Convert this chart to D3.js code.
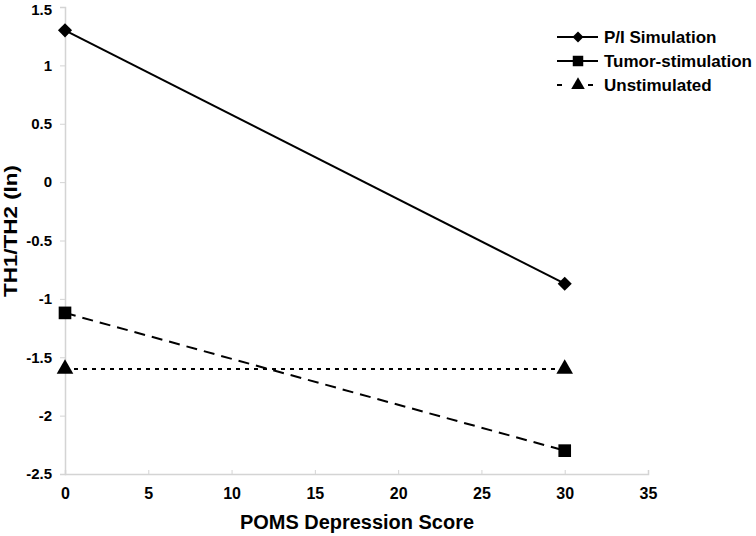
<!DOCTYPE html>
<html><head><meta charset="utf-8">
<script src="https://cdn.jsdelivr.net/npm/d3@7"></script>
<style>body{margin:0;background:#fff}svg{display:block}</style>
</head><body>
<svg id="c" width="756" height="536"></svg>
<script>
const xValues = [0, 30];
const piSimulation = [1.3, -0.87];
const tumorStimulation = [-1.12, -2.3];
const unstimulated = [-1.6, -1.6];
const seriesNames = ["P/I Simulation", "Tumor-stimulation", "Unstimulated"];
const xTicks = [0, 5, 10, 15, 20, 25, 30, 35];
const yTicks = [1.5, 1, 0.5, 0, -0.5, -1, -1.5, -2, -2.5];

const svg = d3.select("#c");
const x = d3.scaleLinear().domain([0, 35]).range([65, 648]);
const y = d3.scaleLinear().domain([-2.5, 1.5]).range([474, 7]);
const axisColor = "#d4d4d4";
const fmt = d => String(d);

// y axis
const ya = svg.append("g").attr("transform", "translate(65,0)")
  .call(d3.axisLeft(y).tickValues(yTicks).tickSize(5).tickPadding(8).tickFormat(fmt));
ya.select(".domain").attr("stroke", axisColor).attr("stroke-width", 1.5);
ya.selectAll(".tick line").attr("stroke", axisColor);
ya.selectAll("text").attr("font-family", "Liberation Sans, Arial, sans-serif").attr("font-weight", "bold").attr("font-size", 15).attr("fill", "#000");
ya.selectAll(".tick").filter(d => d === 1.5).select("text").attr("dy", "0.5em");

// x axis
const xa = svg.append("g").attr("transform", "translate(0,474)")
  .call(d3.axisBottom(x).tickValues(xTicks).tickSize(-4).tickPadding(14).tickFormat(fmt));
xa.select(".domain").attr("stroke", axisColor).attr("stroke-width", 1.5);
xa.selectAll(".tick line").attr("stroke", axisColor);
xa.selectAll("text").attr("font-family", "Liberation Sans, Arial, sans-serif").attr("font-weight", "bold").attr("font-size", 16).attr("fill", "#000");

// titles
svg.append("text").attr("x", 357).attr("y", 529).attr("text-anchor", "middle")
  .attr("font-family", "Liberation Sans, Arial, sans-serif").attr("font-weight", "bold").attr("font-size", 20)
  .attr("textLength", 234).attr("lengthAdjust", "spacingAndGlyphs")
  .text("POMS Depression Score");
svg.append("text").attr("transform", "translate(17,231) rotate(-90)").attr("text-anchor", "middle")
  .attr("font-family", "Liberation Sans, Arial, sans-serif").attr("font-weight", "bold").attr("font-size", 18)
  .attr("textLength", 132).attr("lengthAdjust", "spacingAndGlyphs")
  .text("TH1/TH2 (ln)");

const diamond = {draw(ctx, size) { const r = Math.sqrt(size) / 2 * 1.41; ctx.moveTo(0, -r); ctx.lineTo(r, 0); ctx.lineTo(0, r); ctx.lineTo(-r, 0); ctx.closePath(); }};

const series = [
  {name: seriesNames[0], values: piSimulation, dash: null, sym: diamond, size: 100, lsize: 60},
  {name: seriesNames[1], values: tumorStimulation, dash: "11,7", sym: d3.symbolSquare, size: 160, lsize: 110},
  {name: seriesNames[2], values: unstimulated, dash: "4,5", sym: d3.symbolTriangle, size: 120, lsize: 80}
];

const line = d3.line().x((d, i) => x(xValues[i])).y(d => y(d));
series.forEach(s => {
  svg.append("path").datum(s.values).attr("d", line).attr("fill", "none")
    .attr("stroke", "#000").attr("stroke-width", 2).attr("stroke-dasharray", s.dash);
  svg.selectAll(null).data(s.values).enter().append("path")
    .attr("d", d3.symbol().type(s.sym).size(s.size))
    .attr("transform", (d, i) => `translate(${x(xValues[i])},${y(d)})`)
    .attr("fill", "#000");
});

// legend
const lg = svg.append("g");
series.forEach((s, i) => {
  const yy = 37 + i * 24;
  const lx0 = 557, lx1 = i === 2 ? 593 : 598;
  lg.append("line").attr("x1", lx0).attr("x2", lx1).attr("y1", yy).attr("y2", yy)
    .attr("stroke", "#000").attr("stroke-width", 2)
    .attr("stroke-dasharray", i === 2 ? "5,26,5" : null);
  lg.append("path").attr("d", d3.symbol().type(s.sym).size(s.lsize))
    .attr("transform", `translate(578,${yy})`).attr("fill", "#000");
  lg.append("text").attr("x", 604).attr("y", yy + 6)
    .attr("font-family", "Liberation Sans, Arial, sans-serif").attr("font-weight", "bold").attr("font-size", 17)
    .text(s.name);
});
</script>
</body></html>
